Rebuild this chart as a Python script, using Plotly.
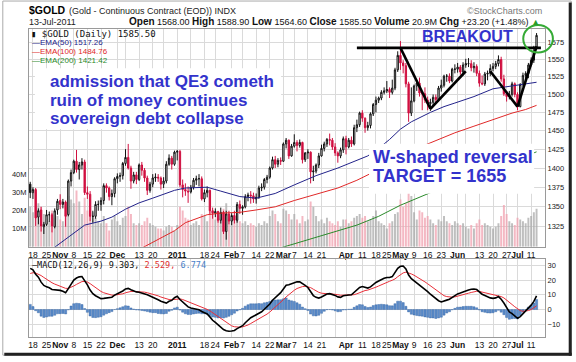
import math
import pandas as pd
import plotly.graph_objects as go

# ---------------- data ----------------
HOLIDAYS = ["2010-11-25", "2010-12-24", "2011-01-17", "2011-02-21",
            "2011-04-22", "2011-05-30", "2011-07-04"]
dates = [d.strftime("%Y-%m-%d") for d in pd.bdate_range("2010-10-15", "2011-07-13")
         if d.strftime("%Y-%m-%d") not in HOLIDAYS]

opens = [
    1379, 1368, 1372, 1337, 1346, 1325, 1328, 1340, 1340, 1325, 1346,
    1358, 1353, 1356, 1340, 1383, 1394, 1409, 1398, 1404, 1408, 1368, 1366, 1338, 1338, 1353, 1353, 1358, 1377, 1374, 1363, 1367,
    1386, 1389, 1390, 1406, 1414, 1400, 1383, 1391, 1385, 1404, 1397, 1387, 1371, 1379, 1387, 1388, 1387, 1379, 1383, 1405, 1413, 1405,
    1421, 1422, 1378, 1372, 1370, 1369, 1375, 1384, 1386, 1386, 1360, 1368, 1371, 1345, 1342, 1344, 1333, 1343, 1319, 1341,
    1332, 1339, 1333, 1353, 1348, 1350, 1363, 1365, 1364, 1360, 1362, 1374, 1375, 1385, 1388, 1400, 1411, 1405, 1410,
    1409, 1432, 1437, 1416, 1429, 1434, 1430, 1434, 1411, 1420, 1421, 1395, 1396, 1404, 1416, 1426, 1432, 1438, 1437, 1428, 1420, 1416, 1424,
    1439, 1428, 1437, 1432, 1454, 1458, 1474, 1467, 1454, 1457, 1473, 1486, 1492, 1495, 1503, 1505, 1507, 1503, 1509, 1535,
    1556, 1545, 1541, 1515, 1474, 1491, 1512, 1516, 1502, 1501, 1492, 1487, 1489, 1496, 1493, 1509, 1513, 1526, 1526, 1519, 1536,
    1536, 1539, 1532, 1542, 1544, 1544, 1538, 1540, 1530, 1516, 1515, 1529, 1530, 1537, 1540, 1544, 1550, 1522, 1501, 1497, 1500, 1515,
    1500, 1483, 1514, 1527, 1530, 1542, 1549, 1568.0,
]
highs = [
    1382, 1375, 1374, 1348, 1350, 1331, 1346, 1344, 1342, 1348, 1360,
    1366, 1360, 1358, 1385, 1398, 1411, 1424, 1408, 1413, 1411, 1376, 1370, 1345, 1357, 1358, 1362, 1380, 1380, 1376, 1372, 1388,
    1393, 1394, 1408, 1425, 1432, 1403, 1395, 1395, 1406, 1408, 1400, 1390, 1382, 1392, 1393, 1392, 1389, 1388, 1409, 1418, 1416, 1423,
    1424, 1424, 1385, 1380, 1376, 1378, 1387, 1390, 1392, 1389, 1372, 1376, 1372, 1349, 1348, 1345, 1349, 1345, 1345, 1345,
    1342, 1345, 1356, 1358, 1352, 1366, 1368, 1370, 1368, 1367, 1377, 1380, 1387, 1391, 1402, 1415, 1416, 1413, 1414,
    1434, 1440, 1438, 1432, 1445, 1437, 1438, 1435, 1421, 1425, 1422, 1403, 1406, 1420, 1431, 1435, 1440, 1446, 1440, 1433, 1422, 1427, 1442,
    1443, 1440, 1442, 1458, 1465, 1476, 1478, 1468, 1462, 1475, 1488, 1497, 1497, 1506, 1510, 1519, 1510, 1521, 1538, 1562,
    1577, 1549, 1545, 1518, 1510, 1514, 1520, 1524, 1504, 1510, 1497, 1494, 1500, 1500, 1512, 1521, 1528, 1529, 1530, 1538, 1543,
    1545, 1542, 1546, 1551, 1552, 1549, 1546, 1543, 1534, 1527, 1532, 1534, 1543, 1545, 1548, 1556, 1554, 1528, 1505, 1505, 1518, 1517,
    1503, 1516, 1531, 1533, 1545, 1553, 1570, 1588.9,
]
lows = [
    1361, 1360, 1326, 1328, 1319, 1316, 1326, 1331, 1318, 1323, 1340,
    1347, 1348, 1325, 1338, 1376, 1392, 1394, 1385, 1398, 1365, 1360, 1332, 1330, 1335, 1345, 1345, 1353, 1368, 1358, 1352, 1362,
    1380, 1382, 1385, 1403, 1398, 1373, 1380, 1379, 1383, 1390, 1382, 1365, 1368, 1375, 1382, 1382, 1372, 1374, 1380, 1403, 1398, 1403,
    1410, 1375, 1362, 1364, 1355, 1367, 1372, 1378, 1376, 1358, 1356, 1362, 1341, 1335, 1337, 1330, 1329, 1316, 1309, 1328,
    1327, 1329, 1330, 1341, 1340, 1348, 1357, 1354, 1355, 1354, 1360, 1370, 1372, 1380, 1386, 1398, 1400, 1401, 1404,
    1408, 1426, 1412, 1415, 1427, 1422, 1427, 1406, 1408, 1412, 1380, 1383, 1393, 1400, 1415, 1422, 1428, 1430, 1424, 1416, 1407, 1413, 1420,
    1418, 1426, 1428, 1430, 1448, 1455, 1462, 1447, 1450, 1453, 1470, 1475, 1488, 1492, 1500, 1502, 1495, 1500, 1506, 1532,
    1535, 1530, 1510, 1462, 1470, 1489, 1505, 1497, 1478, 1488, 1478, 1477, 1485, 1488, 1490, 1504, 1510, 1518, 1516, 1517, 1530,
    1531, 1528, 1527, 1538, 1539, 1533, 1531, 1526, 1511, 1513, 1512, 1520, 1526, 1533, 1536, 1540, 1518, 1498, 1490, 1493, 1497, 1496,
    1478, 1482, 1511, 1520, 1523, 1540, 1545, 1564.6,
]
closes = [
    1368, 1372, 1336, 1345, 1326, 1328, 1340, 1340, 1326, 1345, 1357,
    1353, 1356, 1338, 1383, 1394, 1409, 1398, 1404, 1408, 1368, 1366, 1338, 1338, 1353, 1353, 1358, 1377, 1374, 1363, 1367, 1386,
    1389, 1390, 1406, 1414, 1400, 1383, 1391, 1385, 1404, 1397, 1387, 1371, 1379, 1387, 1388, 1387, 1379, 1383, 1405, 1413, 1405, 1421,
    1422, 1378, 1372, 1370, 1369, 1375, 1384, 1386, 1386, 1360, 1368, 1371, 1345, 1342, 1344, 1333, 1343, 1319, 1341, 1332,
    1339, 1333, 1353, 1348, 1350, 1363, 1365, 1364, 1360, 1362, 1374, 1375, 1385, 1388, 1400, 1411, 1405, 1410, 1409,
    1432, 1437, 1416, 1429, 1434, 1430, 1434, 1411, 1420, 1421, 1395, 1396, 1404, 1416, 1426, 1432, 1438, 1437, 1428, 1420, 1416, 1424, 1439,
    1428, 1437, 1432, 1454, 1458, 1474, 1467, 1454, 1457, 1473, 1486, 1492, 1495, 1503, 1505, 1507, 1503, 1509, 1535, 1556,
    1545, 1541, 1515, 1474, 1491, 1512, 1516, 1502, 1501, 1492, 1487, 1489, 1496, 1493, 1509, 1513, 1526, 1526, 1519, 1536, 1536,
    1539, 1532, 1542, 1544, 1544, 1538, 1540, 1530, 1516, 1515, 1529, 1530, 1537, 1540, 1544, 1550, 1522, 1501, 1497, 1500, 1515, 1500,
    1483, 1514, 1527, 1530, 1542, 1549, 1562.3, 1585.5,
]
volume_m = [
    22, 19, 30, 24, 22, 18, 15, 14, 20, 16, 17,
    15, 14, 22, 28, 26, 24, 31, 25, 18, 27, 20, 26, 19, 16, 14, 13, 17, 13, 9, 15, 17,
    14, 12, 16, 17, 22, 18, 13, 12, 13, 12, 14, 16, 13, 12, 11, 10, 10, 9, 11, 12, 11, 9,
    12, 22, 20, 16, 15, 12, 13, 14, 12, 18, 17, 14, 22, 18, 15, 17, 16, 21, 24, 16,
    15, 14, 17, 14, 13, 14, 12, 13, 12, 11, 13, 12, 14, 13, 17, 20, 18, 14, 13,
    21, 20, 18, 15, 18, 15, 13, 17, 14, 15, 25, 22, 17, 14, 15, 13, 16, 14, 13, 12, 14, 11, 15,
    15, 13, 14, 16, 17, 18, 16, 17, 14, 15, 17, 20, 14, 13, 12, 10, 13, 14, 18, 19,
    26, 22, 24, 30, 28, 19, 15, 20, 19, 16, 17, 15, 13, 12, 15, 14, 17, 14, 13, 12, 14,
    13, 12, 13, 11, 10, 12, 10, 13, 15, 12, 13, 12, 11, 10, 11, 13, 17, 23, 18, 14, 13, 12,
    16, 15, 14, 13, 16, 17, 19, 20.9,
]
macd_line = [
    28.0, 27.0, 24.0, 22.0, 18.6, 16.4, 15.4, 14.8, 13.6, 13.4,
    13.6, 13.0, 12.4, 11.4, 14.2, 17.4, 20.0, 21.4, 22.2, 22.4,
    19.8, 16.8, 13.2, 10.8, 9.4, 8.4, 7.4, 7.6, 7.8, 8.0,
    8.4, 9.8, 10.6, 11.4, 12.6, 14.0, 14.4, 13.4, 12.6, 12.0,
    11.8, 11.3, 10.8, 10.0, 9.2, 8.4, 7.8, 6.6, 5.6, 4.8,
    4.4, 5.6, 6.2, 8.0, 9.0, 6.8, 5.0, 3.2, 1.8, 1.0,
    0.6, 0.3, -0.2, -1.3, -1.9, -3.0, -5.0, -7.3, -8.8, -10.6,
    -11.8, -13.6, -14.4, -14.8, -14.6, -14.2, -13.0, -12.2, -11.0, -9.0,
    -7.2, -5.6, -4.6, -3.6, -2.4, -1.5, 0.2, 1.8, 3.8, 6.3,
    8.0, 9.8, 11.5, 14.0, 16.5, 16.8, 17.6, 18.6, 18.9, 18.8,
    17.3, 16.4, 15.0, 11.8, 9.5, 8.3, 7.8, 8.5, 9.6, 10.6,
    10.8, 10.4, 9.6, 8.6, 8.3, 9.4, 9.4, 9.9, 10.0, 11.6,
    13.2, 15.0, 15.6, 15.0, 14.6, 15.4, 17.0, 18.4, 19.4, 20.5,
    21.2, 21.8, 21.8, 22.4, 24.8, 28.0, 29.4, 29.6, 27.6, 23.4,
    21.0, 19.6, 18.2, 16.8, 15.6, 13.8, 12.2, 10.4, 9.0, 7.0,
    6.0, 5.2, 5.6, 6.4, 7.0, 8.2, 9.4, 10.6, 11.2, 12.0,
    12.7, 13.3, 13.8, 14.0, 13.6, 12.0, 10.4, 9.6, 8.6, 7.9,
    7.6, 7.9, 8.8, 7.0, 4.4, 1.2, -1.6, -2.8, -4.2, -6.0,
    -4.8, -3.0, -1.2, 1.0, 3.0, 5.5, 9.303,
]
signal_line = [
    24.5, 25.0, 24.8, 24.2, 23.1, 21.8, 20.5, 19.4, 18.2, 17.3,
    16.5, 15.8, 15.1, 14.4, 14.4, 15.0, 16.0, 17.1, 18.1, 19.0,
    19.1, 18.7, 17.6, 16.2, 14.9, 13.6, 12.3, 11.4, 10.7, 10.1,
    9.8, 9.8, 10.0, 10.2, 10.7, 11.4, 12.0, 12.3, 12.3, 12.3,
    12.2, 12.0, 11.8, 11.4, 11.0, 10.5, 9.9, 9.3, 8.5, 7.8,
    7.1, 6.8, 6.7, 6.9, 7.4, 7.2, 6.8, 6.1, 5.2, 4.4,
    3.6, 3.0, 2.3, 1.6, 0.9, 0.1, -0.9, -2.2, -3.5, -4.9,
    -6.3, -7.8, -9.1, -10.2, -11.1, -11.7, -12.0, -12.0, -11.8, -11.3,
    -10.5, -9.5, -8.5, -7.5, -6.5, -5.5, -4.4, -3.1, -1.7, -0.1,
    1.5, 3.2, 4.8, 6.7, 8.6, 10.3, 11.7, 13.1, 14.3, 15.2,
    15.6, 15.8, 15.6, 14.9, 13.8, 12.7, 11.7, 11.1, 10.8, 10.7,
    10.8, 10.7, 10.5, 10.1, 9.7, 9.7, 9.6, 9.7, 9.7, 10.1,
    10.7, 11.6, 12.4, 12.9, 13.2, 13.7, 14.3, 15.2, 16.0, 16.9,
    17.8, 18.6, 19.2, 19.9, 20.8, 22.3, 23.7, 24.9, 25.4, 25.0,
    24.2, 23.3, 22.3, 21.2, 20.1, 18.8, 17.5, 16.1, 14.7, 13.1,
    11.7, 10.4, 9.4, 8.8, 8.5, 8.4, 8.6, 9.0, 9.5, 10.0,
    10.5, 11.1, 11.6, 12.1, 12.4, 12.3, 11.9, 11.5, 10.9, 10.3,
    9.8, 9.4, 9.3, 8.8, 7.9, 6.6, 5.0, 3.4, 1.9, 0.3,
    -0.7, -1.2, -1.2, -0.7, 0.0, 1.1, 2.529,
]
# moving averages (weekly samples)
ema50_dates = ["2010-10-22", "2010-10-28", "2010-11-05", "2010-11-12", "2010-11-22", "2010-11-29",
               "2010-12-06", "2010-12-13", "2010-12-20", "2010-12-31", "2011-01-06", "2011-01-19",
               "2011-01-26", "2011-02-04", "2011-02-14", "2011-02-24", "2011-03-07", "2011-03-17",
               "2011-03-29", "2011-04-07", "2011-04-13", "2011-04-19", "2011-04-26", "2011-05-02",
               "2011-05-06", "2011-05-17", "2011-05-24", "2011-05-31", "2011-06-09", "2011-06-20",
               "2011-06-29", "2011-07-07", "2011-07-13"]
ema50_vals = [1290, 1300, 1314, 1327, 1332, 1337, 1347, 1355, 1361, 1371, 1374, 1375,
              1370, 1363, 1361, 1367, 1378, 1390, 1400, 1410, 1416, 1426, 1438, 1452,
              1462, 1475, 1483, 1488, 1497, 1508, 1512, 1514, 1517.26]
ema100_dates = ["2010-12-13", "2010-12-20", "2010-12-31", "2011-01-06", "2011-01-19", "2011-01-26",
                "2011-02-04", "2011-02-14", "2011-02-24", "2011-03-07", "2011-03-17", "2011-03-29",
                "2011-04-07", "2011-04-13", "2011-04-19", "2011-04-26", "2011-05-02", "2011-05-06",
                "2011-05-17", "2011-05-24", "2011-05-31", "2011-06-09", "2011-06-20", "2011-06-29",
                "2011-07-07", "2011-07-13"]
ema100_vals = [1297, 1306, 1320, 1330, 1340, 1342, 1343, 1346, 1350, 1358, 1366, 1374,
               1384, 1391, 1398, 1407, 1417, 1423, 1433, 1441, 1447, 1456, 1465, 1474,
               1479, 1484.76]
ema200_dates = ["2011-02-24", "2011-03-07", "2011-03-17", "2011-03-29", "2011-04-07", "2011-04-19",
                "2011-05-02", "2011-05-17", "2011-05-31", "2011-06-09", "2011-06-20", "2011-06-29",
                "2011-07-13"]
ema200_vals = [1297, 1304, 1312, 1320, 1327, 1338, 1352, 1368, 1380, 1389, 1399, 1408, 1421.42]

tick_dates = ["2010-10-18", "2010-10-25", "2010-11-01", "2010-11-08", "2010-11-15", "2010-11-22",
              "2010-12-01", "2010-12-06", "2010-12-13", "2010-12-20", "2010-12-27", "2011-01-03",
              "2011-01-10", "2011-01-18", "2011-01-24", "2011-02-01", "2011-02-07", "2011-02-14",
              "2011-02-22", "2011-03-01", "2011-03-07", "2011-03-14", "2011-03-21", "2011-03-28",
              "2011-04-01", "2011-04-11", "2011-04-18", "2011-04-25", "2011-05-02", "2011-05-09",
              "2011-05-16", "2011-05-23", "2011-06-01", "2011-06-06", "2011-06-13", "2011-06-20",
              "2011-06-27", "2011-07-01", "2011-07-11"]
tick_text = ["18", "25", "<b>Nov</b>", "8", "15", "22",
             "<b>Dec</b>", "", "13", "20", "", "<b>2011</b>",
             "", "18", "24", "<b>Feb</b>", "7", "14",
             "22", "<b>Mar</b>", "7", "14", "21", "",
             "<b>Apr</b>", "11", "18", "25", "<b>May</b>", "9",
             "16", "23", "<b>Jun</b>", "", "13", "20",
             "27", "<b>Jul</b>", "11"]
price_ticks = [1325, 1350, 1375, 1400, 1425, 1450, 1475, 1500, 1525, 1550, 1575]
volume_ticks = [10, 20, 30, 40]
macd_ticks = [-10, 0, 10, 20, 30]

# trend-line annotation (drawn by the chart author)
w_dates = ["2011-05-02", "2011-05-17", "2011-06-06"]
w_prices = [1567, 1480, 1533]
w2_dates = ["2011-06-17", "2011-07-01", "2011-07-13"]
w2_prices = [1533, 1483, 1569]
resistance_price = 1567

n = len(dates)
assert all(len(a) == n for a in [opens, highs, lows, closes, volume_m, macd_line, signal_line])

# ---------------- geometry helpers ----------------
L, T, R, B = 27, 29, 27, 19
W, H = 576 - L - R, 362 - T - B
def px(x): return (x - L) / W
def py(y): return 1 - (y - T) / H

FONT = "Liberation Sans, Arial, sans-serif"
MONO = "DejaVu Sans Mono, monospace"
GRID = "#DADADA"
BORDER = "#9A9A9A"
RED = "#D01040"
BLUE_TXT = "#3333CC"

fig = go.Figure()

# volume
prev = [closes[0]] + closes[:-1]
vol_colors = ["rgba(170,170,170,0.75)" if c >= p else "rgba(240,160,175,0.75)" for c, p in zip(closes, prev)]
fig.add_trace(go.Bar(x=dates, y=[v * 1e6 for v in volume_m], marker=dict(color=vol_colors, line=dict(width=0)),
                     width=0.72, xaxis="x", yaxis="y", hoverinfo="skip"))

# candles: black if close >= previous close, red otherwise
up_idx = [i for i in range(n) if closes[i] >= prev[i]]
dn_idx = [i for i in range(n) if closes[i] < prev[i]]
for idx, col in [(up_idx, "#111111"), (dn_idx, RED)]:
    fig.add_trace(go.Candlestick(
        x=[dates[i] for i in idx], open=[opens[i] for i in idx], high=[highs[i] for i in idx],
        low=[lows[i] for i in idx], close=[closes[i] for i in idx],
        increasing=dict(line=dict(color=col, width=1), fillcolor="white"),
        decreasing=dict(line=dict(color=col, width=1), fillcolor=col),
        whiskerwidth=0, xaxis="x", yaxis="y2", hoverinfo="skip"))

for xs, ys, col in [(ema50_dates, ema50_vals, "#23238A"), (ema100_dates, ema100_vals, "#E02828"),
                    (ema200_dates, ema200_vals, "#2A8A2A")]:
    fig.add_trace(go.Scatter(x=xs, y=ys, mode="lines", line=dict(color=col, width=1),
                             xaxis="x", yaxis="y2", hoverinfo="skip"))

# MACD panel
hist = [m - s for m, s in zip(macd_line, signal_line)]
fig.add_trace(go.Bar(x=dates, y=hist, width=0.8, marker=dict(color="#5B8CCB", line=dict(color="#2F5F9E", width=0.4)),
                     xaxis="x2", yaxis="y3", hoverinfo="skip"))
fig.add_trace(go.Scatter(x=dates, y=signal_line, mode="lines", line=dict(color="#E8303A", width=1),
                         xaxis="x2", yaxis="y3", hoverinfo="skip"))
fig.add_trace(go.Scatter(x=dates, y=macd_line, mode="lines", line=dict(color="#000000", width=1.6),
                         xaxis="x2", yaxis="y3", hoverinfo="skip"))

xrange = [-0.45, n - 1 + 3.1]
xcommon = dict(type="category", categoryorder="array", categoryarray=dates, range=xrange,
               tickvals=tick_dates, ticktext=tick_text, tickangle=0, ticks="",
               tickfont=dict(size=8.5, color="#111", family=FONT), showgrid=True, gridcolor=GRID,
               gridwidth=1, zeroline=False, showline=True, linecolor=BORDER, linewidth=1, mirror=True,
               rangeslider=dict(visible=False), fixedrange=True)

price_top = 1575 * math.exp((42.7 - T) / 1087)
price_bot = 1575 * math.exp((42.7 - 251) / 1087)

shapes = []
# white boxes behind the author's text
for (x0, y0, x1, y1) in [(33, 69, 282, 131), (371, 146, 538, 197)]:
    shapes.append(dict(type="rect", xref="paper", yref="paper", x0=px(x0), x1=px(x1), y0=py(y1), y1=py(y0),
                       fillcolor="white", line=dict(width=0), layer="above"))
# trend lines
for ds, ps in [(w_dates, w_prices), (w2_dates, w2_prices)]:
    for k in range(len(ds) - 1):
        shapes.append(dict(type="line", xref="x", yref="y2", x0=ds[k], x1=ds[k + 1], y0=ps[k], y1=ps[k + 1],
                           line=dict(color="black", width=2.6), layer="above"))
shapes.append(dict(type="line", xref="x", yref="y2", x0="2011-04-07", x1=n + 0.6,
                   y0=resistance_price, y1=resistance_price, line=dict(color="black", width=2.6), layer="above"))
# green circle
shapes.append(dict(type="circle", xref="paper", yref="paper", x0=px(527), x1=px(557), y0=py(53), y1=py(25),
                   line=dict(color="#35AA35", width=2), layer="above"))
# outer frame
shapes.append(dict(type="rect", xref="paper", yref="paper", x0=px(0.5), x1=px(575.5), y0=py(361.5), y1=py(0.5),
                   line=dict(color="#AAAAAA", width=1), layer="above"))
shapes.append(dict(type="line", xref="paper", yref="paper", x0=px(574.5), x1=px(574.5), y0=py(362), y1=py(2),
                   line=dict(color="#222", width=3), layer="above"))
shapes.append(dict(type="line", xref="paper", yref="paper", x0=px(2), x1=px(576), y0=py(360.5), y1=py(360.5),
                   line=dict(color="#222", width=3), layer="above"))

def note(x, y, text, size, color="#000", family=FONT, xanchor="left", yanchor="middle"):
    return dict(xref="paper", yref="paper", x=px(x), y=py(y), text=text, showarrow=False,
                xanchor=xanchor, yanchor=yanchor, font=dict(size=size, color=color, family=family),
                borderpad=0)

def lab(t): return '<span style="font-size:10px"><b>%s</b></span>' % t

ann = [
    note(26, 10, "<b>$GOLD</b>", 10.5),
    note(66, 11, "(Gold - Continuous Contract (EOD)) INDX", 9, "#222"),
    note(26, 21.5, "13-Jul-2011", 9, "#222"),
    note(127, 21.5, lab("Open") + " 1568.00 " + lab("High") + " 1588.90 " + lab("Low") + " 1564.60 "
         + lab("Close") + " 1585.50 " + lab("Volume") + " 20.9M " + lab("Chg")
         + ' +23.20 (+1.48%) <span style="color:#2a9d2a">▲</span>', 9, "#111"),
    note(547, 11, "©StockCharts.com", 9, "#777", xanchor="right"),
    note(28, 34, "▮ $GOLD (Daily) 1585.50", 9, "#111", family=MONO),
    note(29, 43, "—EMA(50) 1517.26", 8, "#23238A"),
    note(29, 52, "—EMA(100) 1484.76", 8, "#E02828"),
    note(29, 61, "—EMA(200) 1421.42", 8, "#2A8A2A"),
    note(29, 270, '—MACD(12,26,9) 9.303, <span style="color:#E03030">2.529,</span> '
         '<span style="color:#4A80C8">6.774</span>', 8.5, "#111", family=MONO),
    note(47, 83, "<b>admission that QE3 cometh</b>", 17, BLUE_TXT),
    note(47, 101.5, "<b>ruin of money continues</b>", 17, BLUE_TXT),
    note(47, 120, "<b>sovereign debt collapse</b>", 17, BLUE_TXT),
    note(374, 159, "<b>W-shaped reversal</b>", 18, BLUE_TXT),
    note(374, 178.5, "<b>TARGET = 1655</b>", 18, BLUE_TXT),
    note(471, 36.5, "<b>BREAKOUT</b>", 16, BLUE_TXT, xanchor="center"),
]

fig.update_layout(
    width=576, height=362, margin=dict(l=L, r=R, t=T, b=B, pad=0),
    paper_bgcolor="white", plot_bgcolor="white", showlegend=False,
    font=dict(family=FONT, size=8, color="#111"), boxgap=0.3, bargap=0.25,
    xaxis=dict(anchor="y", domain=[0, 1], **xcommon),
    xaxis2=dict(anchor="y3", domain=[0, 1], **xcommon),
    yaxis=dict(domain=[py(251), 1], range=[0, 120e6], side="left", anchor="x",
               tickvals=[v * 1e6 for v in volume_ticks], ticktext=["%dM" % v for v in volume_ticks],
               ticks="", showgrid=False, zeroline=False, showline=True, linecolor=BORDER,
               tickfont=dict(size=7.5, color="#222", family=FONT), fixedrange=True),
    yaxis2=dict(overlaying="y", side="right", type="log", anchor="x",
                range=[math.log10(price_bot), math.log10(price_top)],
                tickvals=price_ticks, ticktext=[str(v) for v in price_ticks], ticks="",
                showgrid=True, gridcolor=GRID, zeroline=False, showline=True, linecolor=BORDER,
                tickfont=dict(size=7.5, color="#222", family=FONT), fixedrange=True),
    yaxis3=dict(domain=[0, py(263)], range=[(315 - 343) / 1.5, (315 - 263) / 1.5], side="right", anchor="x2",
                tickvals=macd_ticks, ticks="", showgrid=True, gridcolor=GRID, zeroline=False,
                showline=True, linecolor=BORDER, mirror=True,
                tickfont=dict(size=7.5, color="#222", family=FONT), fixedrange=True),
    shapes=shapes, annotations=ann,
)

fig.write_html("out.html", config={"displayModeBar": False},
               post_script="document.body.style.margin='0px';document.body.style.overflow='hidden';")
